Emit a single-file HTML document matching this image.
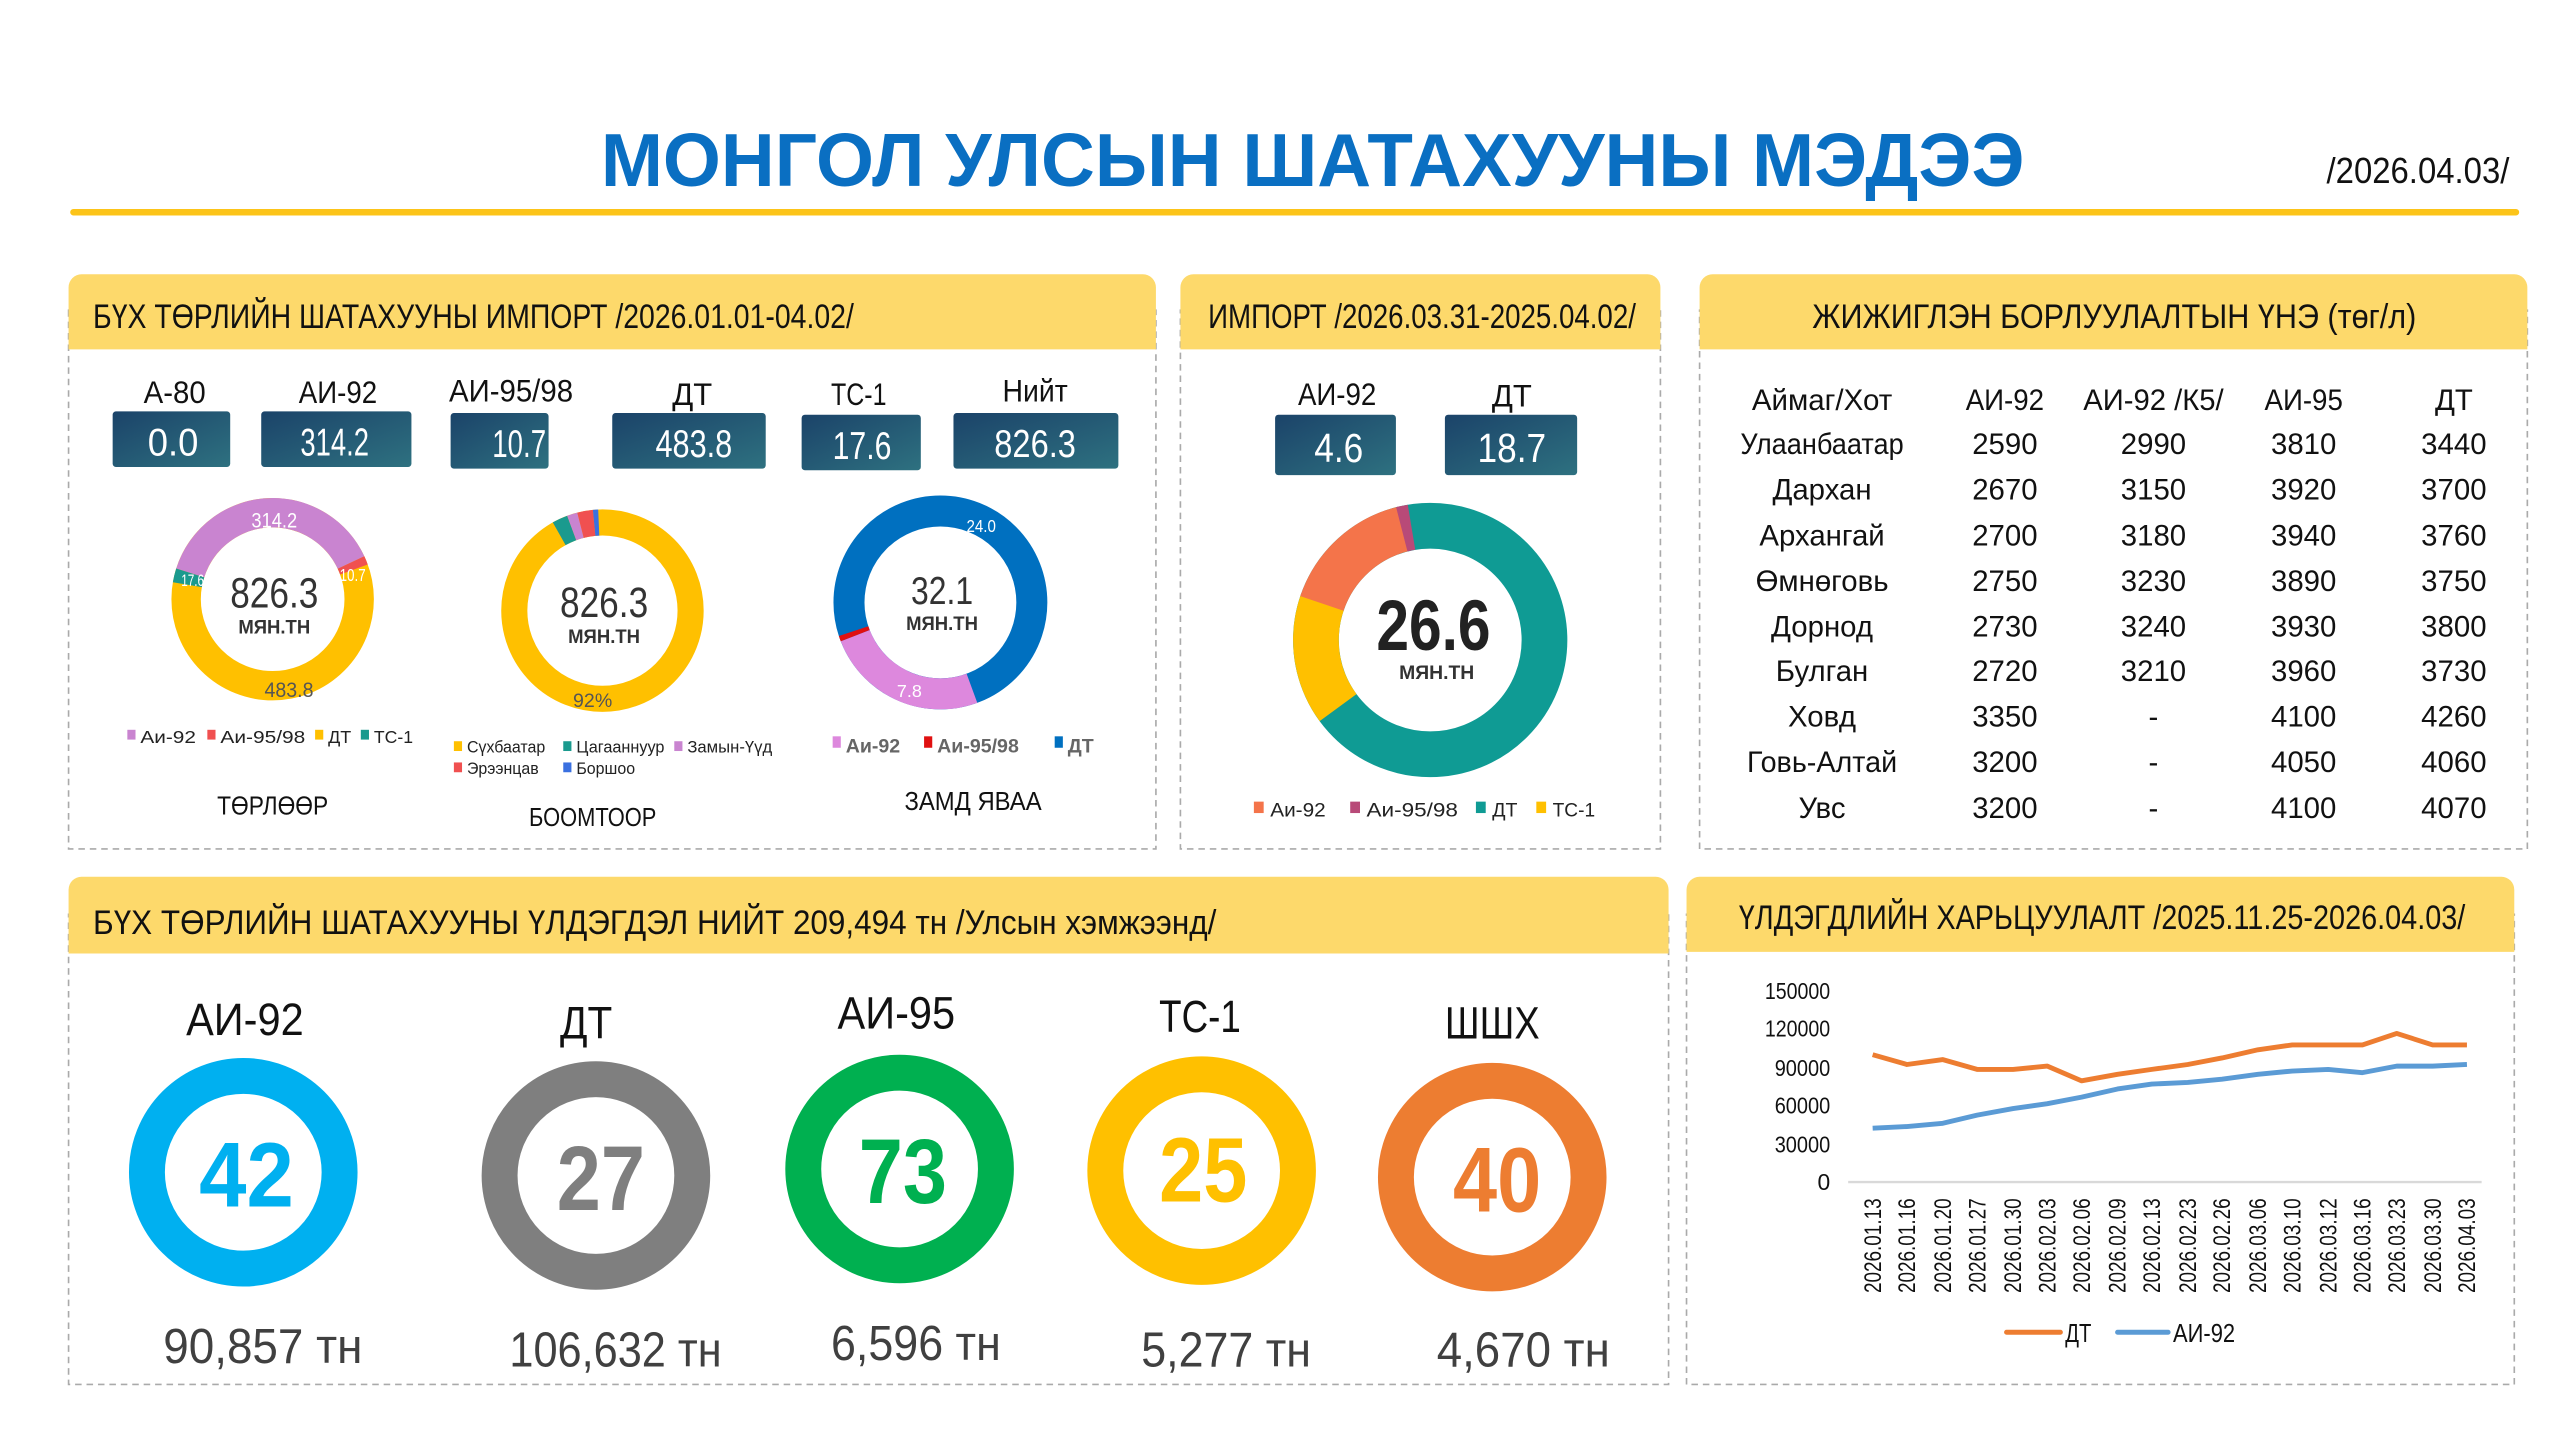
<!DOCTYPE html>
<html><head><meta charset="utf-8"><style>
html,body{margin:0;padding:0;background:#fff}
svg{display:block}
text{font-family:"Liberation Sans Narrow","Liberation Sans","DejaVu Sans Condensed",sans-serif}
.b{font-weight:bold}
</style></head><body>
<svg width="2560" height="1440" viewBox="0 0 1568 882" xmlns="http://www.w3.org/2000/svg">
<defs>
<linearGradient id="g" x1="0" y1="0" x2="1" y2="1"><stop offset="0" stop-color="#1b4369"/><stop offset="1" stop-color="#2e7180"/></linearGradient>
</defs>
<rect width="1568" height="882" fill="#fff"/>
<text x="804" y="114" text-anchor="middle" font-size="46" class="b" fill="#0a6fc2" textLength="872" lengthAdjust="spacingAndGlyphs" style="font-family:'Liberation Sans',sans-serif">МОНГОЛ УЛСЫН ШАТАХУУНЫ МЭДЭЭ</text>
<text x="1425" y="112" font-size="22" fill="#111" textLength="112" lengthAdjust="spacingAndGlyphs">/2026.04.03/</text>
<rect x="43" y="128" width="1500" height="4" rx="2" fill="#fcc419"/>

<g fill="none" stroke="#aaa" stroke-width="1" stroke-dasharray="4,3">
<rect x="42" y="190" width="666" height="330"/>
<rect x="723" y="190" width="294" height="330"/>
<rect x="1041" y="190" width="507" height="330"/>
<rect x="42" y="560" width="980" height="288"/>
<rect x="1033" y="560" width="507" height="288"/>
</g>
<g fill="#fdd96b">
<path d="M42 214V176a8 8 0 0 1 8-8h650a8 8 0 0 1 8 8v38z"/>
<path d="M723 214V176a8 8 0 0 1 8-8h278a8 8 0 0 1 8 8v38z"/>
<path d="M1041 214V176a8 8 0 0 1 8-8h491a8 8 0 0 1 8 8v38z"/>
<path d="M42 584V545a8 8 0 0 1 8-8h964a8 8 0 0 1 8 8v39z"/>
<path d="M1033 583V545a8 8 0 0 1 8-8h491a8 8 0 0 1 8 8v38z"/>
</g>
<g fill="#111" font-size="21">
<text x="57" y="201" textLength="466" lengthAdjust="spacingAndGlyphs">БҮХ ТӨРЛИЙН ШАТАХУУНЫ ИМПОРТ /2026.01.01-04.02/</text>
<text x="740" y="201" textLength="262" lengthAdjust="spacingAndGlyphs">ИМПОРТ /2026.03.31-2025.04.02/</text>
<text x="1110" y="201" textLength="370" lengthAdjust="spacingAndGlyphs">ЖИЖИГЛЭН БОРЛУУЛАЛТЫН ҮНЭ (төг/л)</text>
<text x="57" y="572" textLength="688" lengthAdjust="spacingAndGlyphs">БҮХ ТӨРЛИЙН ШАТАХУУНЫ ҮЛДЭГДЭЛ НИЙТ 209,494 тн /Улсын хэмжээнд/</text>
<text x="1065" y="569" textLength="445" lengthAdjust="spacingAndGlyphs">ҮЛДЭГДЛИЙН ХАРЬЦУУЛАЛТ /2025.11.25-2026.04.03/</text>
</g>

<g font-size="19" fill="#111" text-anchor="middle" lengthAdjust="spacingAndGlyphs">
<text x="107" y="247" textLength="38" lengthAdjust="spacingAndGlyphs">А-80</text><text x="207" y="247" textLength="48" lengthAdjust="spacingAndGlyphs">АИ-92</text><text x="313" y="246" textLength="76" lengthAdjust="spacingAndGlyphs">АИ-95/98</text>
<text x="424" y="248">ДТ</text><text x="526" y="248" textLength="34" lengthAdjust="spacingAndGlyphs">ТС-1</text><text x="634" y="246" textLength="40" lengthAdjust="spacingAndGlyphs">Нийт</text>
</g>
<g fill="url(#g)">
<rect x="69" y="252" width="72" height="34" rx="2"/><rect x="160" y="252" width="92" height="34" rx="2"/>
<rect x="276" y="253" width="60" height="34" rx="2"/><rect x="375" y="253" width="94" height="34" rx="2"/>
<rect x="491" y="254" width="73" height="34" rx="2"/><rect x="584" y="253" width="101" height="34" rx="2"/>
</g>
<g font-size="24" fill="#fff" text-anchor="middle">
<text x="106" y="279" textLength="31" lengthAdjust="spacingAndGlyphs">0.0</text><text x="205" y="279" textLength="42" lengthAdjust="spacingAndGlyphs">314.2</text><text x="318" y="280" textLength="33" lengthAdjust="spacingAndGlyphs">10.7</text>
<text x="425" y="280" textLength="47" lengthAdjust="spacingAndGlyphs">483.8</text><text x="528" y="281" textLength="36" lengthAdjust="spacingAndGlyphs">17.6</text><text x="634" y="280" textLength="50" lengthAdjust="spacingAndGlyphs">826.3</text>
</g>

<!-- Donut 1 -->
<g fill="none" stroke-width="18" transform="rotate(-90 167 367)">
<circle cx="167" cy="367" r="53" pathLength="360" stroke="#ffc000"/>
<circle cx="167" cy="367" r="53" pathLength="360" stroke="#c984d0" stroke-dasharray="137 223" stroke-dashoffset="72"/>
<circle cx="167" cy="367" r="53" pathLength="360" stroke="#f05050" stroke-dasharray="5 355" stroke-dashoffset="-65"/>
<circle cx="167" cy="367" r="53" pathLength="360" stroke="#1a9a8e" stroke-dasharray="8 352" stroke-dashoffset="-280"/>
</g>
<text x="168" y="372" font-size="26" text-anchor="middle" fill="#333" textLength="54" lengthAdjust="spacingAndGlyphs">826.3</text>
<text x="168" y="388" font-size="12" text-anchor="middle" fill="#333" class="b" textLength="44" lengthAdjust="spacingAndGlyphs">МЯН.ТН</text>
<text x="168" y="323" font-size="13" text-anchor="middle" fill="#fff" textLength="28" lengthAdjust="spacingAndGlyphs">314.2</text>
<text x="216" y="356" font-size="11" text-anchor="middle" fill="#fff" textLength="16" lengthAdjust="spacingAndGlyphs">10.7</text>
<text x="118" y="359" font-size="10" text-anchor="middle" fill="#fff" textLength="14" lengthAdjust="spacingAndGlyphs">17.6</text>
<text x="177" y="427" font-size="13" text-anchor="middle" fill="#555" textLength="30" lengthAdjust="spacingAndGlyphs">483.8</text>
<g font-size="11" fill="#222">
<rect x="78" y="447" width="5" height="6" fill="#c984d0"/><text x="86" y="455" textLength="34" lengthAdjust="spacingAndGlyphs">Аи-92</text>
<rect x="127" y="447" width="5" height="6" fill="#f05050"/><text x="135" y="455" textLength="52" lengthAdjust="spacingAndGlyphs">Аи-95/98</text>
<rect x="193" y="447" width="5" height="6" fill="#ffc000"/><text x="201" y="455">ДТ</text>
<rect x="221" y="447" width="5" height="6" fill="#1a9a8e"/><text x="229" y="455" textLength="24" lengthAdjust="spacingAndGlyphs">ТС-1</text>
</g>
<text x="167" y="499" font-size="16" text-anchor="middle" fill="#111" textLength="68" lengthAdjust="spacingAndGlyphs">ТӨРЛӨӨР</text>

<!-- Donut 2 -->
<g fill="none" stroke-width="16" transform="rotate(-90 369 374)">
<circle cx="369" cy="374" r="54" pathLength="360" stroke="#ffc000"/>
<circle cx="369" cy="374" r="54" pathLength="360" stroke="#1a9a8e" stroke-dasharray="9 351" stroke-dashoffset="-331"/>
<circle cx="369" cy="374" r="54" pathLength="360" stroke="#c984d0" stroke-dasharray="6 354" stroke-dashoffset="-340"/>
<circle cx="369" cy="374" r="54" pathLength="360" stroke="#f05050" stroke-dasharray="9 351" stroke-dashoffset="-346"/>
<circle cx="369" cy="374" r="54" pathLength="360" stroke="#3a70e0" stroke-dasharray="3 357" stroke-dashoffset="-355"/>
</g>
<text x="370" y="378" font-size="26" text-anchor="middle" fill="#333" textLength="54" lengthAdjust="spacingAndGlyphs">826.3</text>
<text x="370" y="394" font-size="12" text-anchor="middle" fill="#333" class="b" textLength="44" lengthAdjust="spacingAndGlyphs">МЯН.ТН</text>
<text x="363" y="433" font-size="12" text-anchor="middle" fill="#555">92%</text>
<g font-size="10" fill="#222">
<rect x="278" y="454" width="5" height="6" fill="#ffc000"/><text x="286" y="461" textLength="48" lengthAdjust="spacingAndGlyphs">Сүхбаатар</text>
<rect x="345" y="454" width="5" height="6" fill="#1a9a8e"/><text x="353" y="461" textLength="54" lengthAdjust="spacingAndGlyphs">Цагааннуур</text>
<rect x="413" y="454" width="5" height="6" fill="#c984d0"/><text x="421" y="461" textLength="52" lengthAdjust="spacingAndGlyphs">Замын-Үүд</text>
<rect x="278" y="467" width="5" height="6" fill="#f05050"/><text x="286" y="474" textLength="44" lengthAdjust="spacingAndGlyphs">Эрээнцав</text>
<rect x="345" y="467" width="5" height="6" fill="#3a70e0"/><text x="353" y="474" textLength="36" lengthAdjust="spacingAndGlyphs">Боршоо</text>
</g>
<text x="363" y="506" font-size="16" text-anchor="middle" fill="#111" textLength="78" lengthAdjust="spacingAndGlyphs">БООМТООР</text>

<!-- Donut 3 -->
<g fill="none" stroke-width="19" transform="rotate(-90 576 369)">
<circle cx="576" cy="369" r="56" pathLength="360" stroke="#0070c0"/>
<circle cx="576" cy="369" r="56" pathLength="360" stroke="#dd88dd" stroke-dasharray="89 271" stroke-dashoffset="-160"/>
<circle cx="576" cy="369" r="56" pathLength="360" stroke="#e01010" stroke-dasharray="3 357" stroke-dashoffset="-249"/>
</g>
<text x="577" y="370" font-size="24" text-anchor="middle" fill="#333" textLength="38" lengthAdjust="spacingAndGlyphs">32.1</text>
<text x="577" y="386" font-size="12" text-anchor="middle" fill="#333" class="b" textLength="44" lengthAdjust="spacingAndGlyphs">МЯН.ТН</text>
<text x="601" y="326" font-size="11" text-anchor="middle" fill="#fff" textLength="18" lengthAdjust="spacingAndGlyphs">24.0</text>
<text x="557" y="427" font-size="11" text-anchor="middle" fill="#fff">7.8</text>
<g font-size="12" fill="#666" style="font-family:'Liberation Serif',serif" class="b">
<rect x="510" y="451" width="5" height="7" fill="#dd88dd"/><text x="518" y="461">Аи-92</text>
<rect x="566" y="451" width="5" height="7" fill="#e01010"/><text x="574" y="461">Аи-95/98</text>
<rect x="646" y="451" width="5" height="7" fill="#0070c0"/><text x="654" y="461">ДТ</text>
</g>
<text x="596" y="496" font-size="16" text-anchor="middle" fill="#111" textLength="84" lengthAdjust="spacingAndGlyphs">ЗАМД ЯВАА</text>

<!-- Panel 2 -->
<g font-size="19" fill="#111" text-anchor="middle"><text x="819" y="248" textLength="48" lengthAdjust="spacingAndGlyphs">АИ-92</text><text x="926" y="249">ДТ</text></g>
<rect x="781" y="254" width="74" height="37" rx="2" fill="url(#g)"/>
<rect x="885" y="254" width="81" height="37" rx="2" fill="url(#g)"/>
<g font-size="25" fill="#fff" text-anchor="middle"><text x="820" y="283" textLength="30" lengthAdjust="spacingAndGlyphs">4.6</text><text x="926" y="283" textLength="42" lengthAdjust="spacingAndGlyphs">18.7</text></g>
<g fill="none" stroke-width="28" transform="rotate(-90 876 392)">
<circle cx="876" cy="392" r="70" pathLength="360" stroke="#0f9b94"/>
<circle cx="876" cy="392" r="70" pathLength="360" stroke="#ffc000" stroke-dasharray="56 304" stroke-dashoffset="-234"/>
<circle cx="876" cy="392" r="70" pathLength="360" stroke="#f4744a" stroke-dasharray="58 302" stroke-dashoffset="-289"/>
<circle cx="876" cy="392" r="70" pathLength="360" stroke="#b84a78" stroke-dasharray="5 355" stroke-dashoffset="-346"/>
</g>
<text x="878" y="398" font-size="44" text-anchor="middle" fill="#222" class="b" textLength="70" lengthAdjust="spacingAndGlyphs">26.6</text>
<text x="880" y="416" font-size="12" text-anchor="middle" fill="#333" class="b" textLength="46" lengthAdjust="spacingAndGlyphs">МЯН.ТН</text>
<g font-size="12" fill="#222">
<rect x="768" y="491" width="6" height="7" fill="#f4744a"/><text x="778" y="500" textLength="34" lengthAdjust="spacingAndGlyphs">Аи-92</text>
<rect x="827" y="491" width="6" height="7" fill="#b84a78"/><text x="837" y="500" textLength="56" lengthAdjust="spacingAndGlyphs">Аи-95/98</text>
<rect x="904" y="491" width="6" height="7" fill="#0f9b94"/><text x="914" y="500">ДТ</text>
<rect x="941" y="491" width="6" height="7" fill="#ffc000"/><text x="951" y="500" textLength="26" lengthAdjust="spacingAndGlyphs">ТС-1</text>
</g>

<!-- Panel 3 table -->
<g font-size="18" fill="#111" text-anchor="middle">
<text x="1116" y="251" textLength="86" lengthAdjust="spacingAndGlyphs">Аймаг/Хот</text><text x="1228" y="251" textLength="48" lengthAdjust="spacingAndGlyphs">АИ-92</text><text x="1319" y="251" textLength="86" lengthAdjust="spacingAndGlyphs">АИ-92 /К5/</text><text x="1411" y="251" textLength="48" lengthAdjust="spacingAndGlyphs">АИ-95</text><text x="1503" y="251">ДТ</text>
<text x="1116" y="278" textLength="100" lengthAdjust="spacingAndGlyphs">Улаанбаатар</text><text x="1228" y="278">2590</text><text x="1319" y="278">2990</text><text x="1411" y="278">3810</text><text x="1503" y="278">3440</text>
<text x="1116" y="306">Дархан</text><text x="1228" y="306">2670</text><text x="1319" y="306">3150</text><text x="1411" y="306">3920</text><text x="1503" y="306">3700</text>
<text x="1116" y="334">Архангай</text><text x="1228" y="334">2700</text><text x="1319" y="334">3180</text><text x="1411" y="334">3940</text><text x="1503" y="334">3760</text>
<text x="1116" y="362">Өмнөговь</text><text x="1228" y="362">2750</text><text x="1319" y="362">3230</text><text x="1411" y="362">3890</text><text x="1503" y="362">3750</text>
<text x="1116" y="390">Дорнод</text><text x="1228" y="390">2730</text><text x="1319" y="390">3240</text><text x="1411" y="390">3930</text><text x="1503" y="390">3800</text>
<text x="1116" y="417">Булган</text><text x="1228" y="417">2720</text><text x="1319" y="417">3210</text><text x="1411" y="417">3960</text><text x="1503" y="417">3730</text>
<text x="1116" y="445">Ховд</text><text x="1228" y="445">3350</text><text x="1319" y="445">-</text><text x="1411" y="445">4100</text><text x="1503" y="445">4260</text>
<text x="1116" y="473" textLength="92" lengthAdjust="spacingAndGlyphs">Говь-Алтай</text><text x="1228" y="473">3200</text><text x="1319" y="473">-</text><text x="1411" y="473">4050</text><text x="1503" y="473">4060</text>
<text x="1116" y="501">Увс</text><text x="1228" y="501">3200</text><text x="1319" y="501">-</text><text x="1411" y="501">4100</text><text x="1503" y="501">4070</text>
</g>

<!-- Panel 4 rings -->
<g font-size="28" fill="#111" text-anchor="middle">
<text x="150" y="634" textLength="72" lengthAdjust="spacingAndGlyphs">АИ-92</text><text x="359" y="636" textLength="32" lengthAdjust="spacingAndGlyphs">ДТ</text><text x="549" y="630" textLength="72" lengthAdjust="spacingAndGlyphs">АИ-95</text><text x="735" y="632" textLength="50" lengthAdjust="spacingAndGlyphs">ТС-1</text><text x="914" y="636" textLength="58" lengthAdjust="spacingAndGlyphs">ШШХ</text>
</g>
<g fill="none" stroke-width="22">
<circle cx="149" cy="718" r="59" stroke="#00b0f0"/>
<circle cx="365" cy="720" r="59" stroke="#7f7f7f"/>
<circle cx="551" cy="716" r="59" stroke="#00b050"/>
<circle cx="736" cy="717" r="59" stroke="#ffc000"/>
<circle cx="914" cy="721" r="59" stroke="#ed7d31"/>
</g>
<g font-size="56" text-anchor="middle" class="b">
<text x="151" y="739" fill="#00b0f0" textLength="58" lengthAdjust="spacingAndGlyphs">42</text>
<text x="368" y="741" fill="#7f7f7f" textLength="54" lengthAdjust="spacingAndGlyphs">27</text>
<text x="553" y="737" fill="#00b050" textLength="54" lengthAdjust="spacingAndGlyphs">73</text>
<text x="737" y="736" fill="#ffc000" textLength="54" lengthAdjust="spacingAndGlyphs">25</text>
<text x="917" y="742" fill="#ed7d31" textLength="54" lengthAdjust="spacingAndGlyphs">40</text>
</g>
<g font-size="30" fill="#404040" text-anchor="middle">
<text x="161" y="835" textLength="122" lengthAdjust="spacingAndGlyphs">90,857 тн</text><text x="377" y="837" textLength="130" lengthAdjust="spacingAndGlyphs">106,632 тн</text><text x="561" y="833" textLength="104" lengthAdjust="spacingAndGlyphs">6,596 тн</text>
<text x="751" y="837" textLength="104" lengthAdjust="spacingAndGlyphs">5,277 тн</text><text x="933" y="837" textLength="106" lengthAdjust="spacingAndGlyphs">4,670 тн</text>
</g>

<!-- Panel 5 chart -->
<g font-size="14" fill="#111" text-anchor="end">
<text x="1121" y="612" textLength="40" lengthAdjust="spacingAndGlyphs">150000</text><text x="1121" y="635" textLength="40" lengthAdjust="spacingAndGlyphs">120000</text><text x="1121" y="659" textLength="34" lengthAdjust="spacingAndGlyphs">90000</text>
<text x="1121" y="682" textLength="34" lengthAdjust="spacingAndGlyphs">60000</text><text x="1121" y="706" textLength="34" lengthAdjust="spacingAndGlyphs">30000</text><text x="1121" y="729">0</text>
</g>
<line x1="1132" y1="724" x2="1520" y2="724" stroke="#d9d9d9" stroke-width="1.5"/>
<polyline fill="none" stroke="#ed7d31" stroke-width="3" stroke-linejoin="round" points="1147,646 1168,652 1190,649 1211,655 1233,655 1254,653 1275,662 1297,658 1318,655 1340,652 1361,648 1383,643 1404,640 1426,640 1447,640 1468,633 1490,640 1511,640"/>
<polyline fill="none" stroke="#5b9bd5" stroke-width="3" stroke-linejoin="round" points="1147,691 1168,690 1190,688 1211,683 1233,679 1254,676 1275,672 1297,667 1318,664 1340,663 1361,661 1383,658 1404,656 1426,655 1447,657 1468,653 1490,653 1511,652"/>
<g font-size="15" fill="#111" text-anchor="end">
<text transform="translate(1152,734) rotate(-90)" textLength="58" lengthAdjust="spacingAndGlyphs">2026.01.13</text>
<text transform="translate(1173,734) rotate(-90)" textLength="58" lengthAdjust="spacingAndGlyphs">2026.01.16</text>
<text transform="translate(1195,734) rotate(-90)" textLength="58" lengthAdjust="spacingAndGlyphs">2026.01.20</text>
<text transform="translate(1216,734) rotate(-90)" textLength="58" lengthAdjust="spacingAndGlyphs">2026.01.27</text>
<text transform="translate(1238,734) rotate(-90)" textLength="58" lengthAdjust="spacingAndGlyphs">2026.01.30</text>
<text transform="translate(1259,734) rotate(-90)" textLength="58" lengthAdjust="spacingAndGlyphs">2026.02.03</text>
<text transform="translate(1280,734) rotate(-90)" textLength="58" lengthAdjust="spacingAndGlyphs">2026.02.06</text>
<text transform="translate(1302,734) rotate(-90)" textLength="58" lengthAdjust="spacingAndGlyphs">2026.02.09</text>
<text transform="translate(1323,734) rotate(-90)" textLength="58" lengthAdjust="spacingAndGlyphs">2026.02.13</text>
<text transform="translate(1345,734) rotate(-90)" textLength="58" lengthAdjust="spacingAndGlyphs">2026.02.23</text>
<text transform="translate(1366,734) rotate(-90)" textLength="58" lengthAdjust="spacingAndGlyphs">2026.02.26</text>
<text transform="translate(1388,734) rotate(-90)" textLength="58" lengthAdjust="spacingAndGlyphs">2026.03.06</text>
<text transform="translate(1409,734) rotate(-90)" textLength="58" lengthAdjust="spacingAndGlyphs">2026.03.10</text>
<text transform="translate(1431,734) rotate(-90)" textLength="58" lengthAdjust="spacingAndGlyphs">2026.03.12</text>
<text transform="translate(1452,734) rotate(-90)" textLength="58" lengthAdjust="spacingAndGlyphs">2026.03.16</text>
<text transform="translate(1473,734) rotate(-90)" textLength="58" lengthAdjust="spacingAndGlyphs">2026.03.23</text>
<text transform="translate(1495,734) rotate(-90)" textLength="58" lengthAdjust="spacingAndGlyphs">2026.03.30</text>
<text transform="translate(1516,734) rotate(-90)" textLength="58" lengthAdjust="spacingAndGlyphs">2026.04.03</text>
</g>
<line x1="1229" y1="816" x2="1262" y2="816" stroke="#ed7d31" stroke-width="3" stroke-linecap="round"/>
<text x="1265" y="822" font-size="16" fill="#111" textLength="16" lengthAdjust="spacingAndGlyphs">ДТ</text>
<line x1="1297" y1="816" x2="1328" y2="816" stroke="#5b9bd5" stroke-width="3" stroke-linecap="round"/>
<text x="1331" y="822" font-size="16" fill="#111" textLength="38" lengthAdjust="spacingAndGlyphs">АИ-92</text>
</svg>
</body></html>
